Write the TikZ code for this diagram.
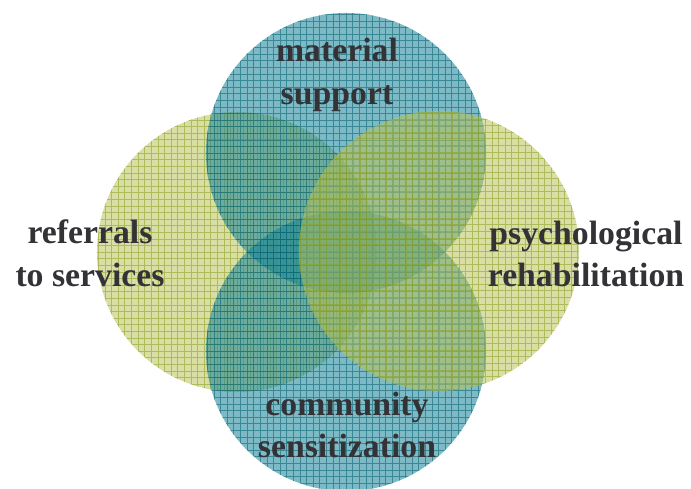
\documentclass[tikz,border=0pt]{standalone}
\usepackage{fontspec}
\setmainfont{Liberation Serif}
\usepackage{tikz}

\definecolor{tealfill}{RGB}{20,130,150}
\definecolor{tealgrid}{RGB}{0,95,110}
\definecolor{olivefill}{RGB}{185,195,90}
\definecolor{olivegrid}{RGB}{140,160,30}
\definecolor{labeltext}{RGB}{50,50,55}

\tikzset{
  blob/.style={circle, minimum size=7cm, inner sep=0pt},
  tealblob/.style={blob, fill=tealfill, fill opacity=0.55,
    path picture={\draw[tealgrid, line width=0.4pt, draw opacity=0.55]
      (path picture bounding box.south west) grid[step=0.165cm]
      (path picture bounding box.north east);}},
  oliveblob/.style={blob, fill=olivefill, fill opacity=0.55,
    path picture={\draw[olivegrid, line width=0.4pt, draw opacity=0.55]
      (path picture bounding box.south west) grid[step=0.165cm]
      (path picture bounding box.north east);}},
  label/.style={text=labeltext, align=center, font=\fontsize{24}{30.5}\selectfont\bfseries}
}

\begin{document}
\begin{tikzpicture}[x=0.025cm, y=-0.025cm]
  \useasboundingbox (0,0) rectangle (691,488);

  % circles
  \node[oliveblob] (ref) at (237,252) {};
  \node[tealblob]  (sup) at (346,153) {};
  \node[tealblob]  (com) at (346,351) {};
  \node[oliveblob] (psy) at (439,251) {};

  % labels
  \node[label] (supl) at (337,75) {material\\support};
  \node[label] (refl) at (90,253) {referrals\\to services};
  \node[label] (psyl) at (586,254) {psychological\\rehabilitation};
  \node[label] (coml) at (347,425) {community\\sensitization};
\end{tikzpicture}
\end{document}
